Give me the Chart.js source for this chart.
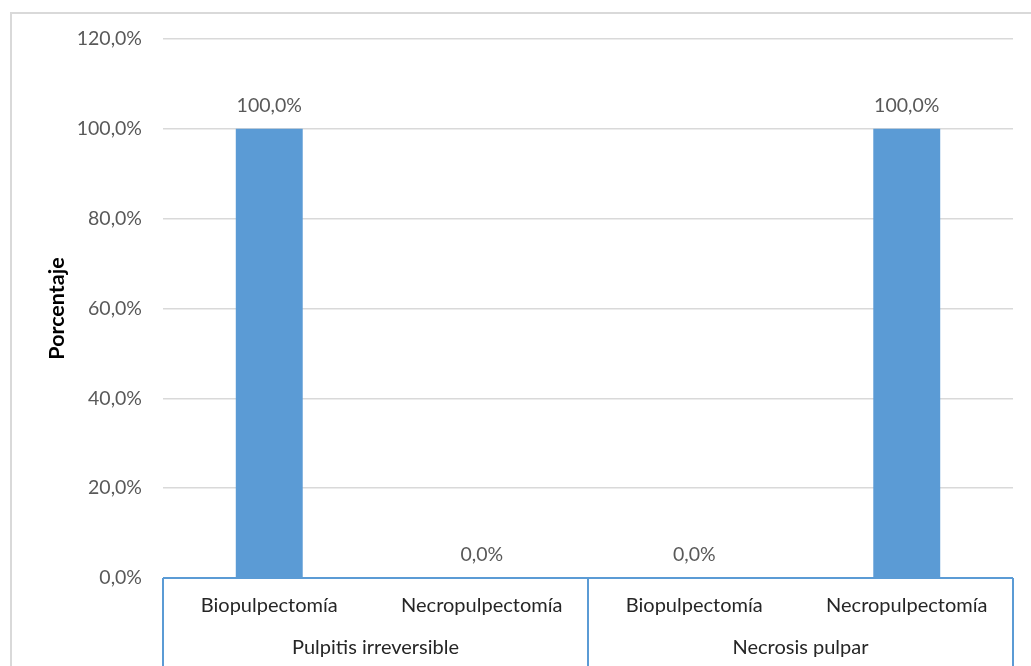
<!DOCTYPE html>
<html>
<head>
<meta charset="utf-8">
<script src="https://cdn.jsdelivr.net/npm/chart.js@4/dist/chart.umd.min.js"></script>
<style>
  html, body { margin: 0; padding: 0; background: #ffffff; }
  #wrap { width: 1031px; height: 666px; position: relative; }
</style>
</head>
<body>
<div id="wrap"><canvas id="chart" width="1031" height="666"></canvas></div>
<script>
// Tratamiento por diagnóstico
const subcategories = ['Biopulpectomía', 'Necropulpectomía', 'Biopulpectomía', 'Necropulpectomía'];
const groups = ['Pulpitis irreversible', 'Necrosis pulpar'];
const groupSizes = [2, 2];
const percentages = [100.0, 0.0, 0.0, 100.0];
const yTicks = [0, 20, 40, 60, 80, 100, 120];

const FONT = 'Lato, "Open Sans", sans-serif';
const BLUE = '#5b9bd5';

const fmt = v => v.toFixed(1).replace('.', ',') + '%';

// Outer frame of the chart object
const framePlugin = {
  id: 'frame',
  beforeDraw(chart) {
    const ctx = chart.ctx;
    ctx.save();
    ctx.fillStyle = '#ffffff';
    ctx.fillRect(0, 0, chart.width, chart.height);
    ctx.strokeStyle = '#d9d9d9';
    ctx.lineWidth = 2;
    ctx.strokeRect(11, 13, chart.width + 20, chart.height + 20);
    ctx.restore();
  }
};

// Blue boxes of the two-level category axis
const axisBoxPlugin = {
  id: 'axisBox',
  afterDraw(chart) {
    const ctx = chart.ctx;
    const area = chart.chartArea;
    const step = (area.right - area.left) / subcategories.length;
    ctx.save();
    ctx.strokeStyle = BLUE;
    ctx.lineWidth = 2;
    ctx.beginPath();
    ctx.moveTo(area.left, area.bottom);
    ctx.lineTo(area.right, area.bottom);
    let idx = 0;
    const bounds = [0];
    groupSizes.forEach(n => { idx += n; bounds.push(idx); });
    bounds.forEach(b => {
      const px = Math.round(area.left + b * step);
      ctx.moveTo(px, area.bottom);
      ctx.lineTo(px, chart.height);
    });
    ctx.stroke();
    ctx.restore();
  }
};

// Value labels above the bars
const valueLabelPlugin = {
  id: 'valueLabels',
  afterDatasetsDraw(chart) {
    const ctx = chart.ctx;
    const meta = chart.getDatasetMeta(0);
    ctx.save();
    ctx.font = '19.5px ' + FONT;
    ctx.fillStyle = '#595959';
    ctx.textAlign = 'center';
    ctx.textBaseline = 'middle';
    meta.data.forEach((bar, i) => {
      ctx.fillText(fmt(percentages[i]), bar.x, bar.y - 23);
    });
    ctx.restore();
  }
};

new Chart(document.getElementById('chart'), {
  type: 'bar',
  data: {
    labels: subcategories,
    datasets: [{
      data: percentages,
      backgroundColor: BLUE,
      borderWidth: 0,
      categoryPercentage: 1.0,
      barPercentage: 0.315,
      xAxisID: 'x',
      yAxisID: 'y'
    }]
  },
  options: {
    responsive: false,
    animation: false,
    events: [],
    layout: { padding: { left: 0, top: 39, right: 18, bottom: 0 } },
    plugins: {
      legend: { display: false },
      tooltip: { enabled: false }
    },
    scales: {
      y: {
        min: 0,
        max: 120,
        afterBuildTicks: s => { s.ticks = yTicks.map(v => ({ value: v })); },
        afterFit: s => { s.width = 163; },
        grid: { color: '#d9d9d9', lineWidth: 1.5, drawTicks: false },
        border: { display: false },
        ticks: {
          padding: 21,
          color: '#595959',
          font: { family: FONT, size: 19.5 },
          callback: v => fmt(v)
        },
        title: {
          display: true,
          text: 'Porcentaje',
          color: '#000000',
          font: { family: FONT, size: 21.5, weight: 'bold' },
          padding: { top: 44, bottom: 0 }
        }
      },
      x: {
        type: 'category',
        position: 'bottom',
        weight: 1,
        afterFit: s => { s.height = 50; },
        grid: { display: false, drawTicks: false },
        border: { display: false },
        ticks: {
          padding: 16,
          color: '#262626',
          maxRotation: 0,
          autoSkip: false,
          font: { family: FONT, size: 20 }
        }
      },
      x2: {
        type: 'category',
        position: 'bottom',
        weight: 2,
        labels: groups,
        offset: true,
        afterFit: s => { s.height = 38; },
        grid: { display: false, drawTicks: false },
        border: { display: false },
        ticks: {
          padding: 8,
          color: '#262626',
          maxRotation: 0,
          autoSkip: false,
          font: { family: FONT, size: 20 }
        }
      }
    }
  },
  plugins: [framePlugin, axisBoxPlugin, valueLabelPlugin]
});
</script>
</body>
</html>
